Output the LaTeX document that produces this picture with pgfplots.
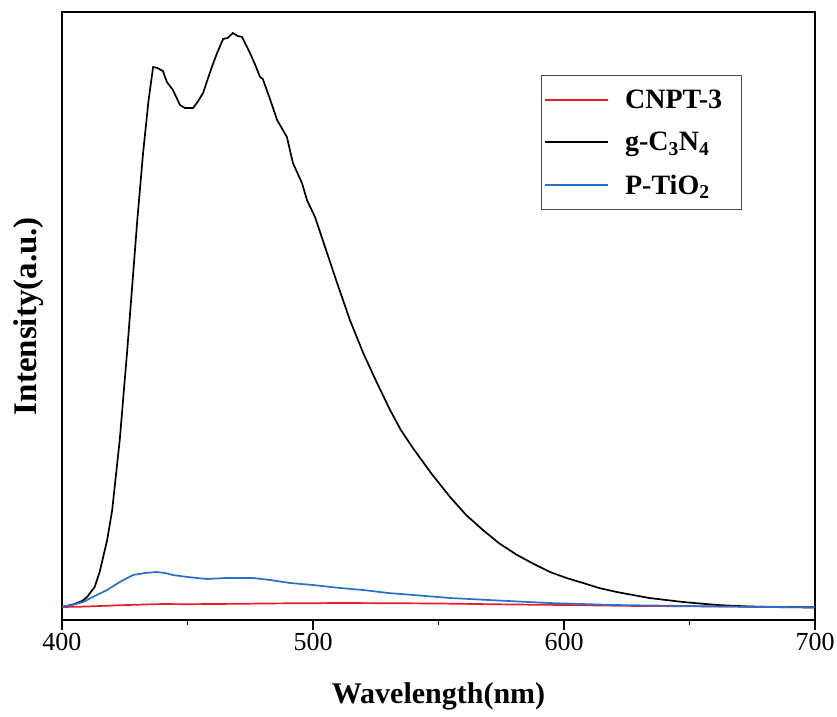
\documentclass[border=0pt]{standalone}
\usepackage{fontspec}
\setmainfont{Liberation Serif}
\usepackage{pgfplots}
\pgfplotsset{compat=1.18}
\definecolor{cred}{RGB}{235,30,40}
\definecolor{cblue}{RGB}{40,112,205}
\begin{document}
\begin{tikzpicture}
\begin{axis}[
  scale only axis,
  width=753pt, height=608pt,
  xmin=400, xmax=700, ymin=0, ymax=608,
  xtick={400,500,600,700},
  minor xtick={450,550,650},
  ytick=\empty,
  xtick pos=bottom,
  tick align=outside,
  major tick length=10pt,
  minor tick length=5pt,
  every tick/.style={black, line width=1.3pt},
  axis line style={line width=1.5pt},
  /pgf/number format/assume math mode=true,
  /pgf/number format/1000 sep={},
  ticklabel style={font=\fontsize{26}{30}\selectfont},
  xlabel={\textbf{Wavelength(nm)}},
  ylabel={\textbf{Intensity(a.u.)}},
  x label style={font=\fontsize{30}{34}\selectfont, at={(axis description cs:0.5,0)}, anchor=center, yshift=-76pt},
  y label style={font=\fontsize{33}{36}\selectfont, at={(axis description cs:-0.045,0.5)}, anchor=center},
  legend style={at={(rel axis cs:0.636,0.896)}, anchor=north west, draw=black!70, line width=0.8pt,
    font=\fontsize{28}{32}\selectfont\bfseries, inner xsep=3pt, inner ysep=12pt, row sep=18.5pt,
    nodes={inner xsep=16pt, inner ysep=2pt}},
  legend cell align=left,
  legend image code/.code={\draw[#1, line width=1.8pt] (0pt,0pt) -- (63pt,0pt);},
  every axis plot/.append style={line width=1.7pt},
  clip=true,
]
\addplot[cred] coordinates {
(400,13) (405,13.2) (410,13.5) (420,14.5) (430,15.3) (440,16) (450,15.8) (460,16) (470,16.2) (480,16.5) (490,16.7) (500,16.8) (510,17) (530,16.8) (550,16.5) (565,16) (580,15.5) (600,15) (615,14.5) (630,14) (645,13.8) (660,13.5) (680,13.2) (700,13)
};
\addlegendentry{CNPT-3}
\addplot[black] coordinates {
(400,13) (405,16) (408,19) (410,23) (413,33) (415,48) (418,80) (420,110) (423,180) (426,270) (430,400) (432.3,467) (434.5,520) (436.3,553) (438,552) (440.2,549) (441.8,538) (444.2,530) (447,515) (449,512) (452.2,512) (454,518) (456.2,527) (458.2,542) (460,555) (461.8,567) (464.2,581) (466,582) (468.1,587) (470,584) (471.7,583) (474.9,567) (477,555) (478.9,543) (480,541) (483,520) (485.7,500) (489.6,483) (492,457) (495.6,437) (497.6,420) (500.8,403) (504.8,373) (509.6,337) (514.7,300) (520,267) (525.5,237) (530.7,210) (535,190) (539.8,172) (547,147) (554.6,123) (561,105) (567.7,90) (574,77) (581.3,65) (588,56) (594.4,48) (601,42) (607.6,37) (614,32) (621,28) (634,22) (647.4,18) (661,15) (674,13.5) (687,12.8) (700,12.5)
};
\addlegendentry{g-C\textsubscript{3}N\textsubscript{4}}
\addplot[cblue] coordinates {
(400,13) (404,15) (408.4,18) (413,24) (418,30) (423,38) (428.3,45) (433,47) (437.8,48) (441,47) (444.2,45) (450,43) (457.8,41) (465,42) (470,42) (476,42) (483,40) (490.8,37) (500,35) (510.8,32) (520,30) (530,27) (540,25) (554.6,22) (570,20) (582,18.5) (594,17) (607,16) (620,15) (635,14.5) (650,14) (665,13.5) (680,13) (700,12.8)
};
\addlegendentry{P-TiO\textsubscript{2}}
\coordinate (bl) at (rel axis cs:0,0);
\coordinate (tr) at (rel axis cs:1,1);
\end{axis}
\pgfresetboundingbox
\path ([xshift=-62pt,yshift=-96pt]bl) rectangle ([xshift=22pt,yshift=12pt]tr);
\end{tikzpicture}
\end{document}
